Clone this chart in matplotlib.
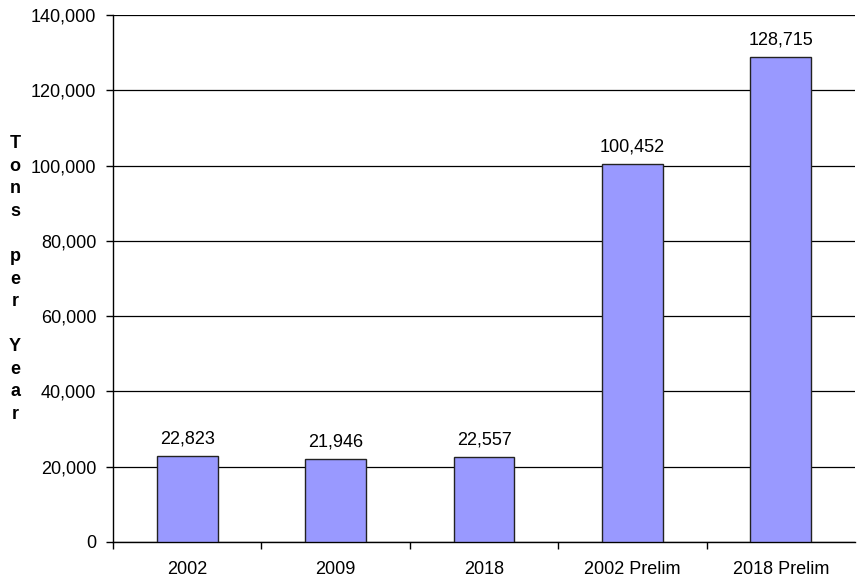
import matplotlib.pyplot as plt
from matplotlib.ticker import FuncFormatter

plt.rcParams['font.family'] = ['Liberation Sans', 'DejaVu Sans']

# Chart data
categories = ['2002', '2009', '2018', '2002 Prelim', '2018 Prelim']
tons = [22823, 21946, 22557, 100452, 128715]
y_label_letters = ['T', 'o', 'n', 's', '', 'p', 'e', 'r', '', 'Y', 'e', 'a', 'r']

fig = plt.figure(figsize=(8.63, 5.82), dpi=100)
ax = fig.add_axes([113 / 863, 40 / 582, (855 - 113) / 863, (542 - 15) / 582])

x = list(range(len(categories)))
ax.bar(x, tons, width=0.41, color='#9999ff', edgecolor='#222222', linewidth=1, zorder=3)

for xi, v in zip(x, tons):
    ax.text(xi, v + 2300, f'{v:,}', ha='center', va='bottom', fontsize=13)

ax.set_xlim(-0.5, len(categories) - 0.5)
ax.set_ylim(0, 140000)
ax.set_yticks(range(0, 140001, 20000))
ax.yaxis.set_major_formatter(FuncFormatter(lambda v, p: f'{int(v):,}'))
ax.set_xticks(x)
ax.set_xticklabels(categories)
ax.set_xticks([i + 0.5 for i in range(-1, len(categories) - 1)], minor=True)
ax.tick_params(axis='x', which='major', length=0, pad=14, labelsize=13)
ax.tick_params(axis='x', which='minor', length=5, width=1)
ax.tick_params(axis='y', length=5, width=1, labelsize=13, pad=7)

ax.grid(True, axis='y', color='black', linewidth=0.9, zorder=0)
ax.set_axisbelow(True)
for side in ['top', 'right']:
    ax.spines[side].set_visible(False)
ax.spines['left'].set_linewidth(1)
ax.spines['bottom'].set_linewidth(1)

fig.text(15 / 863, 1 - 279 / 582, '\n'.join(y_label_letters), ha='center', va='center',
         fontsize=13, fontweight='bold', linespacing=1.43)

fig.savefig('out.png', dpi=100)
